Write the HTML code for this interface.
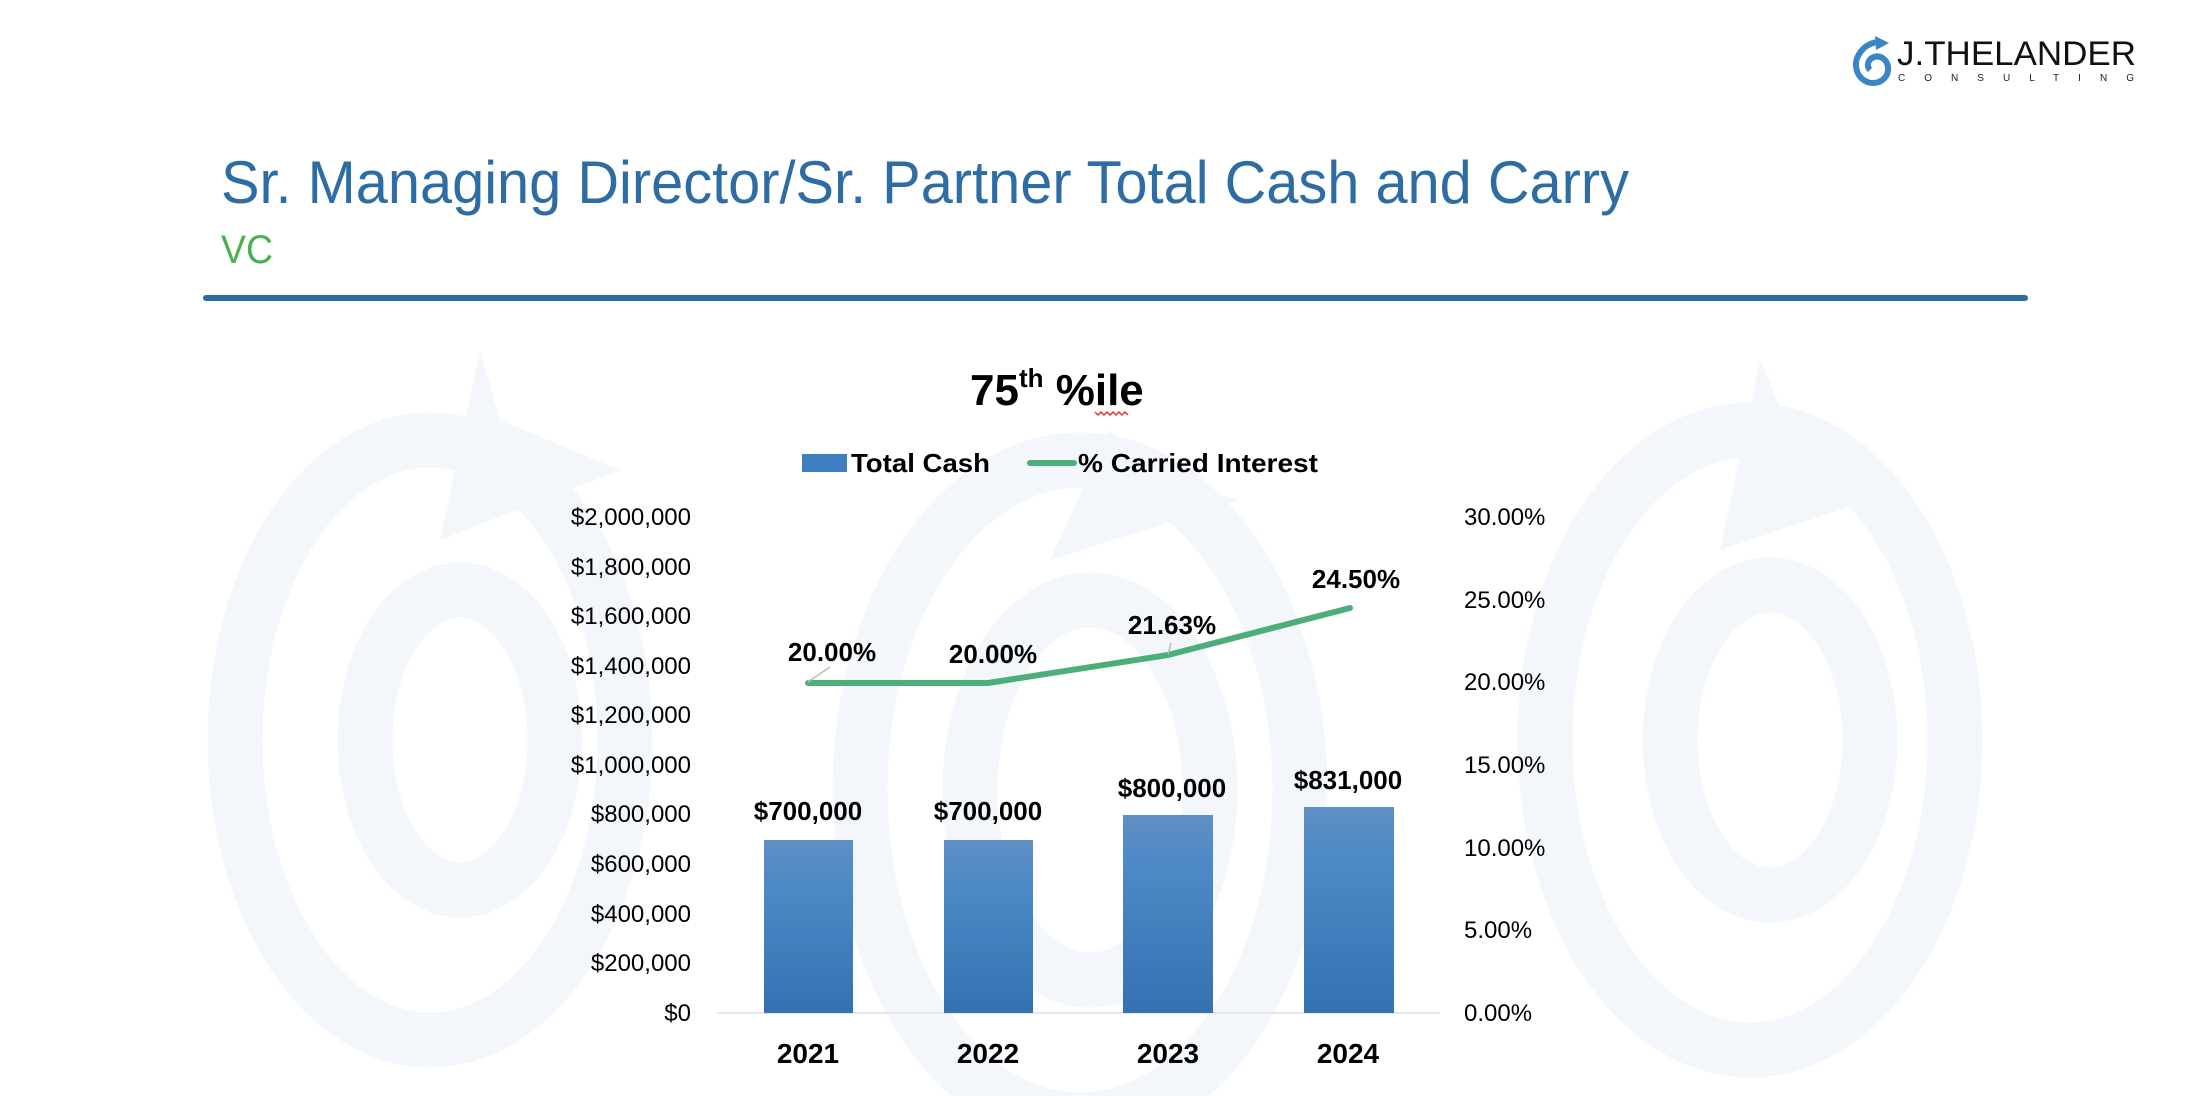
<!DOCTYPE html>
<html><head><meta charset="utf-8"><style>
html,body{margin:0;padding:0;background:#fff;width:2192px;height:1096px;overflow:hidden}
svg{display:block}
text{font-family:"Liberation Sans Narrow","Liberation Sans",sans-serif}
</style></head><body>
<svg width="2192" height="1096" viewBox="0 0 2192 1096" xmlns="http://www.w3.org/2000/svg">
<defs>
<linearGradient id="bg" x1="0" y1="0" x2="0" y2="1">
<stop offset="0" stop-color="#5f8fc4"/><stop offset="0.3" stop-color="#4a88c6"/><stop offset="1" stop-color="#3471b0"/>
</linearGradient>
</defs>
<!-- watermark swirls -->
<g fill="none" stroke="#f3f7fb" stroke-width="55">
<ellipse cx="430" cy="740" rx="195" ry="300"/>
<ellipse cx="460" cy="740" rx="95" ry="150"/>
<ellipse cx="1080" cy="790" rx="220" ry="330"/>
<ellipse cx="1090" cy="790" rx="120" ry="190"/>
<ellipse cx="1750" cy="740" rx="205" ry="310"/>
<ellipse cx="1770" cy="740" rx="100" ry="155"/>
</g>
<g fill="#f3f7fb">
<polygon points="480,350 500,420 620,470 440,540"/>
<polygon points="1110,430 1160,480 1240,500 1050,560"/>
<polygon points="1760,360 1790,430 1900,490 1720,550"/>
</g>
<!-- logo -->
<g fill="none" stroke="#3a85c6" stroke-width="6">
<path d="M1878,42 C1862,44 1855,58 1856,66 C1857,78 1866,83 1873,83 C1883,83 1889,75 1888,67 C1887,59 1880,55 1874,57 C1868,59 1866,66 1870,70"/>
</g>
<polygon points="1875,36 1889,43 1876,50" fill="#3a85c6"/>
<text x="1897" y="65" font-family="Liberation Sans" font-size="34" fill="#111" textLength="239" lengthAdjust="spacingAndGlyphs" style="font-family:'Liberation Sans',sans-serif">J.THELANDER</text>
<text x="1898" y="81" font-size="10" fill="#222" textLength="236" lengthAdjust="spacing" style="font-family:'Liberation Sans',sans-serif">CONSULTING</text>
<!-- titles -->
<text x="221" y="203" font-size="60" fill="#2e6da4" textLength="1408" lengthAdjust="spacingAndGlyphs">Sr. Managing Director/Sr. Partner Total Cash and Carry</text>
<text x="221" y="263" font-size="40" fill="#4caf50" textLength="52" lengthAdjust="spacingAndGlyphs">VC</text>
<rect x="203" y="295" width="1825" height="6" rx="3" fill="#2e6da4"/>
<!-- chart title -->
<text x="970" y="405" font-size="44" font-weight="bold" fill="#000">75<tspan font-size="26" dy="-18">th</tspan><tspan dy="18"> %ile</tspan></text>
<path d="M1095,412 l3,3 l3,-3 l3,3 l3,-3 l3,3 l3,-3 l3,3 l3,-3 l3,3 l3,-3 l3,3" stroke="#e33" stroke-width="1.5" fill="none"/>
<!-- legend -->
<rect x="802" y="454" width="45" height="18" fill="#3f7fc1"/>
<text x="851" y="472" font-size="26" font-weight="bold" fill="#000" textLength="139" lengthAdjust="spacingAndGlyphs">Total Cash</text>
<line x1="1030" y1="463" x2="1074" y2="463" stroke="#4caf7a" stroke-width="6" stroke-linecap="round"/>
<text x="1078" y="472" font-size="26" font-weight="bold" fill="#000" textLength="240" lengthAdjust="spacingAndGlyphs">% Carried Interest</text>
<!-- left axis -->
<g font-size="24" fill="#000" text-anchor="end">
<text x="691" y="525">$2,000,000</text>
<text x="691" y="575">$1,800,000</text>
<text x="691" y="624">$1,600,000</text>
<text x="691" y="674">$1,400,000</text>
<text x="691" y="723">$1,200,000</text>
<text x="691" y="773">$1,000,000</text>
<text x="691" y="822">$800,000</text>
<text x="691" y="872">$600,000</text>
<text x="691" y="922">$400,000</text>
<text x="691" y="971">$200,000</text>
<text x="691" y="1021">$0</text>
</g>
<g font-size="24" fill="#000">
<text x="1464" y="525">30.00%</text>
<text x="1464" y="608">25.00%</text>
<text x="1464" y="690">20.00%</text>
<text x="1464" y="773">15.00%</text>
<text x="1464" y="856">10.00%</text>
<text x="1464" y="938">5.00%</text>
<text x="1464" y="1021">0.00%</text>
</g>
<line x1="717" y1="1013" x2="1440" y2="1013" stroke="#e3e6ea" stroke-width="2"/>
<!-- bars -->
<rect x="764" y="840" width="89" height="173" fill="url(#bg)"/>
<rect x="944" y="840" width="89" height="173" fill="url(#bg)"/>
<rect x="1123" y="815" width="90" height="198" fill="url(#bg)"/>
<rect x="1304" y="807" width="90" height="206" fill="url(#bg)"/>
<!-- line -->
<polyline points="808,683 988,683 1168,655 1350,608" fill="none" stroke="#4caf7a" stroke-width="6" stroke-linejoin="round" stroke-linecap="round"/>
<line x1="808" y1="682" x2="830" y2="667" stroke="#bbb" stroke-width="1.5"/>
<line x1="1168" y1="654" x2="1171" y2="643" stroke="#bbb" stroke-width="1.5"/>
<g font-size="26" font-weight="bold" fill="#000" text-anchor="middle">
<text x="832" y="661">20.00%</text>
<text x="993" y="663">20.00%</text>
<text x="1172" y="634">21.63%</text>
<text x="1356" y="588">24.50%</text>
<text x="808" y="820">$700,000</text>
<text x="988" y="820">$700,000</text>
<text x="1172" y="797">$800,000</text>
<text x="1348" y="789">$831,000</text>
</g>
<g font-size="28" font-weight="bold" fill="#000" text-anchor="middle">
<text x="808" y="1063">2021</text>
<text x="988" y="1063">2022</text>
<text x="1168" y="1063">2023</text>
<text x="1348" y="1063">2024</text>
</g>
</svg>
</body></html>
